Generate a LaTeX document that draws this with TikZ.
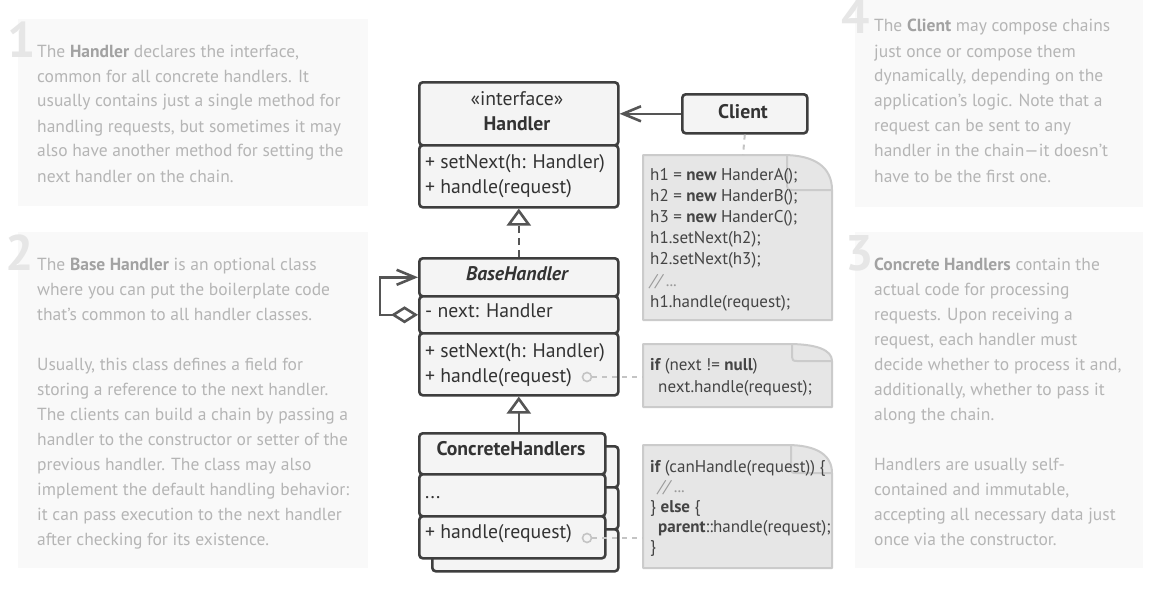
\documentclass[tikz,border=0pt]{standalone}
\usepackage{fontspec}
\setmainfont{PT Sans}
\usetikzlibrary{arrows.meta}
\definecolor{panelbg}{HTML}{F9F9F9}
\definecolor{paneltxt}{HTML}{B5B5B5}
\definecolor{panelbold}{HTML}{A2A2A2}
\definecolor{digitcol}{HTML}{E6E6E6}
\definecolor{boxline}{HTML}{3E3E3E}
\definecolor{boxfill}{HTML}{F4F4F4}
\definecolor{boxtext}{HTML}{333333}
\definecolor{arrowcol}{HTML}{555555}
\definecolor{notefill}{HTML}{E6E6E6}
\definecolor{noteline}{HTML}{CBCBCB}
\definecolor{codetxt}{HTML}{444444}
\definecolor{codecom}{HTML}{9A9A9A}
\definecolor{dashcol}{HTML}{C4C4C4}
\newcommand\ptxt[1]{\parbox[t]{340pt}{\fontsize{17.5}{25}\selectfont\raggedright\leavevmode #1}}
\newcommand\pb[1]{{\bfseries\color{panelbold}#1}}
\newcommand\kw[1]{{\bfseries #1}}
\newcommand\cm[1]{{\itshape\color{codecom}#1}}
\newcommand\ctxt[2]{\parbox[t]{185pt}{\fontsize{17}{#1}\selectfont\raggedright\leavevmode #2}}
\newcommand\drawnote[6]{%
  \filldraw[fill=notefill,draw=noteline,line width=2pt,line join=round]
    (#1,#2) -- (#5,#2) .. controls ({#5+0.65*(#3-#5)},#2) and (#3,{#2+0.35*(#6-#2)}) .. (#3,#6)
    -- (#3,#4) -- (#1,#4) -- cycle;
  \draw[draw=noteline,line width=2pt,line join=round]
    ({#5+4},{#2+1}) -- ({#5+4},{#6-4}) .. controls ({#5+4},{#6-1}) and ({#5+5},#6) .. ({#5+9},#6) -- (#3,#6);
}
\tikzset{
  panel/.style={fill=panelbg,draw=none},
  digit/.style={anchor=base west,inner sep=0pt,text=digitcol,font=\fontsize{50}{50}\selectfont\bfseries},
  ptext/.style={anchor=base west,inner sep=0pt,text=paneltxt},
  umlpart/.style={draw=boxline,fill=boxfill,line width=2.6pt,rounded corners=3.5pt,inner sep=0pt,anchor=north west},
  btxt/.style={inner sep=0pt,text=boxtext,font=\fontsize{19.7}{19.7}\selectfont},
  btxtl/.style={btxt,anchor=base west},
  btxtc/.style={btxt,anchor=base},
  bbold/.style={btxtc,font=\fontsize{19.7}{19.7}\selectfont\bfseries},
  code/.style={anchor=base west,inner sep=0pt,text=codetxt},
  assoc/.style={draw=arrowcol,line width=2.6pt},
  notelink/.style={draw=dashcol,line width=2pt,dash pattern=on 5pt off 5pt},
  dot/.style={circle,draw=dashcol,fill=boxfill,line width=1.6pt,minimum size=9pt,inner sep=0pt},
}
\begin{document}
\begin{tikzpicture}[x=1pt,y=-1pt]
\useasboundingbox (0,0) rectangle (1161,594);
\fill[white] (0,0) rectangle (1161,594);
% panels
\fill[panel] (18,19) rectangle (368,206);
\fill[panel] (18,232) rectangle (368,568);
\fill[panel] (855,0) rectangle (1143,207);
\fill[panel] (855,232) rectangle (1143,568);
\node[digit] (d1) at (7,58) {1};
\node[digit] (d2) at (5,270) {2};
\node[digit] (d4) at (841,34) {4};
\node[digit] (d3) at (845,270) {3};
\node[ptext] (p1) at (37,57) {\ptxt{The \pb{Handler} declares the interface,\\
common for all concrete handlers. It\\
usually contains just a single method for\\
handling requests, but sometimes it may\\
also have another method for setting the\\
next handler on the chain.}};
\node[ptext] (p2) at (37,270) {\ptxt{The \pb{Base Handler} is an optional class\\
where you can put the boilerplate code\\
that’s common to all handler classes.\\[25pt]
Usually, this class defines a field for\\
storing a reference to the next handler.\\
The clients can build a chain by passing a\\
handler to the constructor or setter of the\\
previous handler. The class may also\\
implement the default handling behavior:\\
it can pass execution to the next handler\\
after checking for its existence.}};
\node[ptext] (p4) at (874,32) {\ptxt{The \pb{Client} may compose chains\\
just once or compose them\\
dynamically, depending on the\\
application’s logic. Note that a\\
request can be sent to any\\
handler in the chain—it doesn’t\\
have to be the first one.}};
\node[ptext] (p3) at (874,270) {\ptxt{\pb{Concrete Handlers} contain the\\
actual code for processing\\
requests. Upon receiving a\\
request, each handler must\\
decide whether to process it and,\\
additionally, whether to pass it\\
along the chain.\\[25pt]
Handlers are usually self-\\
contained and immutable,\\
accepting all necessary data just\\
once via the constructor.}};
% Handler interface
\node[umlpart,minimum width=199pt,minimum height=63pt] (hhead) at (418,81) {};
\node[umlpart,minimum width=199pt,minimum height=62pt] (hbody) at (418,144) {};
\node[btxtc] (hst) at (517,105) {«interface»};
\node[bbold] (hname) at (517,130) {Handler};
\node[btxtl] (hm1) at (425,168) {+ setNext(h: Handler)};
\node[btxtl] (hm2) at (425,193) {+ handle(request)};
% Client
\node[umlpart,minimum width=125pt,minimum height=39pt] (client) at (681,93) {};
\node[bbold] (cname) at (743,118) {Client};
% BaseHandler
\node[umlpart,minimum width=199pt,minimum height=38pt] (bhead) at (418,257) {};
\node[umlpart,minimum width=199pt,minimum height=37pt] (bnext) at (418,295) {};
\node[umlpart,minimum width=199pt,minimum height=62pt] (bmeth) at (418,332) {};
\node[btxtc,font=\fontsize{19.7}{19.7}\selectfont\bfseries\itshape] (bname) at (517,280) {BaseHandler};
\node[btxtl] (bf1) at (425,317) {- next: Handler};
\node[btxtl] (bm1) at (425,357) {+ setNext(h: Handler)};
\node[btxtl] (bm2) at (425,382) {+ handle(request)};
% ConcreteHandlers (back copy)
\node[umlpart,minimum width=186pt,minimum height=41pt] (kheadb) at (431,445) {};
\node[umlpart,minimum width=186pt,minimum height=42pt] (kmidb) at (431,486) {};
\node[umlpart,minimum width=186pt,minimum height=42pt] (kmethb) at (431,528) {};
% ConcreteHandlers (front)
\node[umlpart,minimum width=186pt,minimum height=41pt] (khead) at (418,432) {};
\node[umlpart,minimum width=186pt,minimum height=42pt] (kmid) at (418,473) {};
\node[umlpart,minimum width=186pt,minimum height=42pt] (kmeth) at (418,515) {};
\node[bbold] (kname) at (511,455) {ConcreteHandlers};
\node[btxtl] (kf1) at (425,498) {...};
\node[btxtl] (km1) at (425,538) {+ handle(request)};
% notes
\drawnote{643}{155}{832}{320}{783}{190}
\drawnote{643}{344}{832}{407}{788}{361}
\drawnote{643}{445}{832}{568}{787}{473}
\coordinate (n1top) at (743,155);
\coordinate (n2left) at (643,377);
\coordinate (n3left) at (643,538);
\node[code] (n1) at (650,180) {\ctxt{21.2pt}{h1 = \kw{new} HanderA();\\
h2 = \kw{new} HanderB();\\
h3 = \kw{new} HanderC();\\
h1.setNext(h2);\\
h2.setNext(h3);\\
\cm{// ...}\\
h1.handle(request);}};
\node[code] (n2) at (650,370) {\ctxt{22pt}{\kw{if} (next != \kw{null})\\
\hspace*{8pt}next.handle(request);}};
\node[code] (n3) at (650,472) {\ctxt{20pt}{\kw{if} (canHandle(request)) \{\\
\hspace*{8pt}\cm{// ...}\\
\} \kw{else} \{\\
\hspace*{8pt}\kw{parent}::handle(request);\\
\}}};
% dots
\node[dot] (dot1) at (587,377) {};
\node[dot] (dot2) at (587,538) {};
% connectors
\draw[notelink] (client.south) -- (n1top);
\draw[notelink] (dot1.east) -- (n2left);
\draw[notelink] (dot2.east) -- (n3left);
\draw[assoc,-{Straight Barb[length=18pt,width=15pt,line width=2.6pt]}] (client.west) -- (client.west -| hhead.east);
\draw[assoc,dash pattern=on 7pt off 5pt,-{Triangle[open,length=17pt,width=24pt,line width=2.6pt,fill=white]}] (bhead.north) -- (hbody.south);
\draw[assoc,-{Triangle[open,length=17pt,width=24pt,line width=2.6pt,fill=white]}] (bmeth.south |- khead.north) -- (bmeth.south);
\draw[assoc,{Diamond[open,length=27pt,width=17pt,line width=2.6pt,fill=white]}-{Straight Barb[length=18pt,width=15pt,line width=2.6pt]}] (bnext.west) -- ++(-38,0) |- (bhead.west);
\end{tikzpicture}
\end{document}
